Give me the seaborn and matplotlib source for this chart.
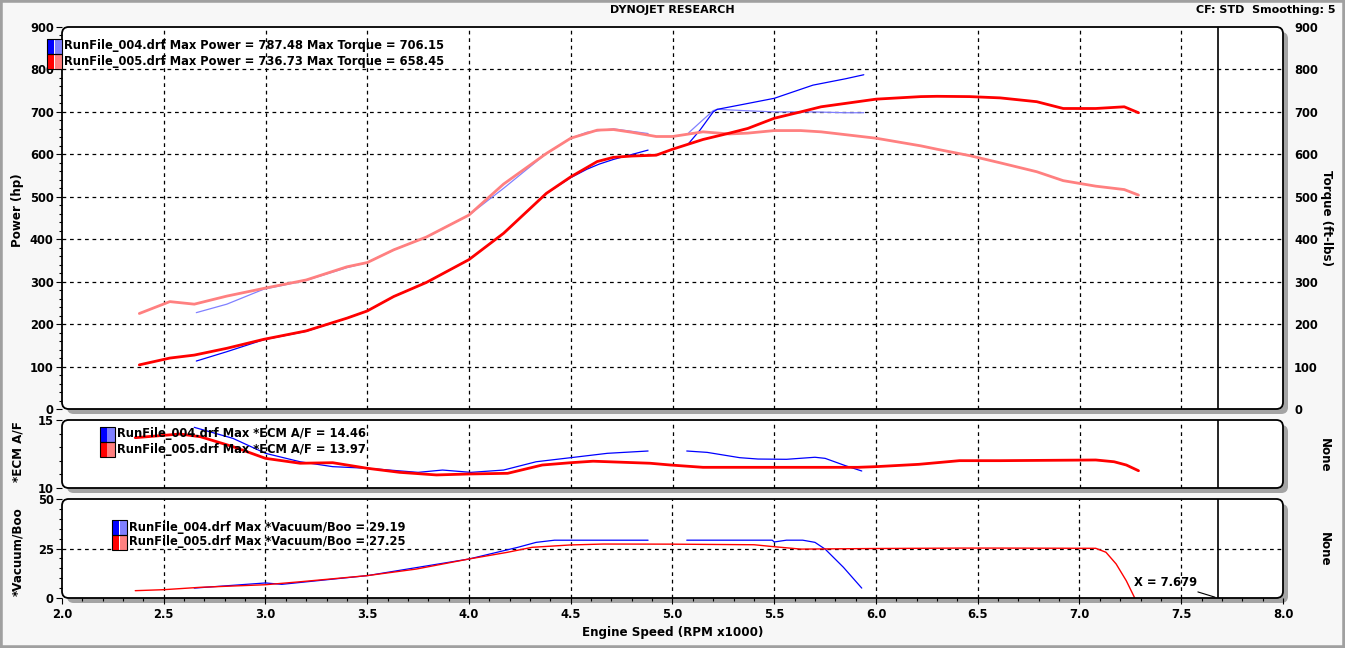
import numpy as np
import pandas as pd
import matplotlib
matplotlib.use("Agg")
import matplotlib.pyplot as plt
from matplotlib.patches import FancyBboxPatch, Rectangle
import seaborn as sns

# RunFile_005 (red)
rpm_005 = [2.38, 2.53, 2.65, 2.81, 2.99, 3.2, 3.4, 3.5, 3.63, 3.79, 4.0, 4.17, 4.38, 4.5, 4.63,
           4.71, 4.8, 4.92, 5.0, 5.15, 5.28, 5.37, 5.5, 5.63, 5.73, 6.0, 6.22, 6.3, 6.46, 6.61,
           6.79, 6.92, 7.08, 7.22, 7.29]
power_005 = [104, 120, 127, 143, 164, 184, 214, 231, 265, 298, 352, 414, 508, 547, 583,
             593, 596, 598, 612, 635, 650, 661, 685, 700, 712, 730, 736, 736.7, 736, 733,
             724, 708, 708, 712, 698]
torque_005 = [225, 253, 247, 266, 284, 304, 335, 345, 375, 405, 457, 530, 602, 638, 657,
              658.4, 652, 642, 642, 653, 648, 650, 656, 656, 653, 638, 620, 612, 597, 580,
              559, 538, 525, 517, 504]

# RunFile_004 (blue), two segments
rpm_004 = [2.66, 2.81, 2.99, 3.2, 3.4, 3.5, 3.63, 3.79, 4.0, 4.17, 4.38, 4.5, 4.58, 4.64, 4.71, 4.88,
           5.08, 5.135, 5.2, 5.22, 5.35, 5.5, 5.69, 5.85, 5.94]
seg_004 = [1] * 16 + [2] * 9
power_004 = [113, 135, 163, 183, 214, 231, 265, 298, 352, 414, 508, 545, 565, 577, 588, 610,
             626, 657, 700, 706, 718, 732, 763, 778, 787.5]
torque_004 = [227, 247, 282, 303, 333, 345, 375, 405, 457, 520, 602, 638, 652, 656, 660, 649,
              651, 675, 703, 706.2, 703, 700, 700, 698, 698]

# ECM A/F
af_rpm_005 = [2.36, 2.58, 2.68, 2.84, 3.0, 3.17, 3.33, 3.5, 3.66, 3.84, 4.0, 4.19, 4.36, 4.5,
              4.61, 4.89, 4.99, 5.15, 5.5, 5.91, 6.0, 6.21, 6.41, 6.61, 7.08, 7.17, 7.23, 7.29]
af_005 = [13.70, 13.97, 13.77, 13.04, 12.18, 11.82, 11.86, 11.45, 11.15, 10.96, 11.03, 11.08,
          11.69, 11.86, 11.97, 11.82, 11.69, 11.52, 11.52, 11.52, 11.57, 11.74, 12.01, 12.01,
          12.06, 11.93, 11.69, 11.27]
af_rpm_004 = [2.65, 2.84, 3.0, 3.17, 3.33, 3.5, 3.75, 3.87, 4.01, 4.17, 4.33, 4.5, 4.68, 4.88,
              5.07, 5.17, 5.33, 5.42, 5.56, 5.70, 5.75, 5.85, 5.93]
af_seg_004 = [1] * 14 + [2] * 9
af_004 = [14.46, 13.65, 12.55, 11.93, 11.57, 11.45, 11.15, 11.32, 11.15, 11.32, 11.93, 12.23,
          12.55, 12.72, 12.72, 12.62, 12.23, 12.13, 12.11, 12.26, 12.18, 11.64, 11.25]

# Vacuum/Boost
vac_rpm_005 = [2.36, 2.5, 2.68, 3.0, 3.17, 3.5, 3.74, 4.0, 4.19, 4.31, 4.5, 4.66, 4.99, 5.4,
               5.5, 5.63, 6.0, 6.41, 6.61, 7.08, 7.13, 7.18, 7.23, 7.27]
vac_005 = [3.7, 4.2, 5.4, 6.7, 8.2, 11.3, 14.6, 19.7, 23.1, 25.6, 26.8, 27.25, 27.2, 26.9,
           25.9, 24.7, 25.0, 25.2, 25.2, 25.1, 23.1, 17.2, 8.7, 0.3]
vac_rpm_004 = [2.65, 3.0, 3.08, 3.5, 4.0, 4.24, 4.33, 4.42, 4.88,
               5.07, 5.49, 5.5, 5.56, 5.64, 5.70, 5.75, 5.84, 5.93]
vac_seg_004 = [1] * 9 + [2] * 9
vac_004 = [5.0, 7.6, 6.9, 11.3, 19.7, 25.6, 28.1, 29.19, 29.19,
           29.2, 29.2, 28.3, 29.2, 29.2, 28.1, 24.7, 15.5, 5.0]

cursor_x = 7.679

legend_top = ["RunFile_004.drf Max Power = 787.48 Max Torque = 706.15",
              "RunFile_005.drf Max Power = 736.73 Max Torque = 658.45"]
legend_mid = ["RunFile_004.drf Max *ECM A/F = 14.46",
              "RunFile_005.drf Max *ECM A/F = 13.97"]
legend_bot = ["RunFile_004.drf Max *Vacuum/Boo = 29.19",
              "RunFile_005.drf Max *Vacuum/Boo = 27.25"]

sns.set_style("white")
plt.rcParams["font.family"] = ["DejaVu Sans"]
plt.rcParams["font.weight"] = "bold"
plt.rcParams["text.color"] = "black"
plt.rcParams["axes.labelcolor"] = "black"
plt.rcParams["xtick.color"] = "black"
plt.rcParams["ytick.color"] = "black"

BLUE, LBLUE = "#0000ff", "#8080ff"
RED, LRED = "#ff0000", "#ff8080"
W, H = 1345, 648
FS = 8.3

fig = plt.figure(figsize=(W / 100, H / 100), dpi=100, facecolor="#f7f7f7")
fig.patches.append(Rectangle((0, 0), 1, 1, transform=fig.transFigure, fill=False,
                             ec="#a0a0a0", lw=4, zorder=-5))


def px_rect(top, bottom):
    return [62 / W, 1 - bottom / H, (1283 - 62) / W, (bottom - top) / H]


panels = [(27, 409), (420, 488), (499, 598)]
axes = []
for top, bottom in panels:
    r = px_rect(top, bottom)
    shadow = FancyBboxPatch((r[0] + 5 / W, r[1] - 5 / H), r[2], r[3],
                            boxstyle="round,pad=0,rounding_size=0.005", mutation_aspect=W / H,
                            transform=fig.transFigure, fc="#a4a4a4", ec="none", zorder=-3)
    face = FancyBboxPatch((r[0], r[1]), r[2], r[3],
                          boxstyle="round,pad=0,rounding_size=0.005", mutation_aspect=W / H,
                          transform=fig.transFigure, fc="white", ec="none", zorder=-2)
    border = FancyBboxPatch((r[0], r[1]), r[2], r[3],
                            boxstyle="round,pad=0,rounding_size=0.005", mutation_aspect=W / H,
                            transform=fig.transFigure, fc="none", ec="black", lw=1.3, zorder=5)
    fig.patches.extend([shadow, face, border])
    ax = fig.add_axes(r)
    ax.patch.set_visible(False)
    for s in ax.spines.values():
        s.set_visible(False)
    ax.set_xlim(2.0, 8.0)
    for xv in np.arange(2.5, 8.0, 0.5):
        ax.axvline(xv, color="black", ls=(0, (3, 3)), lw=0.9, zorder=1)
    ax.axvline(cursor_x, color="black", lw=1.2, zorder=4)
    axes.append(ax)

ax_top, ax_mid, ax_bot = axes

# Top panel: power and torque
df005 = pd.DataFrame({"rpm": rpm_005, "power": power_005, "torque": torque_005})
df004 = pd.DataFrame({"rpm": rpm_004, "seg": seg_004, "power": power_004, "torque": torque_004})
for yv in range(100, 900, 100):
    ax_top.axhline(yv, color="black", ls=(0, (3, 3)), lw=0.9, zorder=1)
sns.lineplot(data=df005, x="rpm", y="torque", color=LRED, lw=2.0, sort=False,
             estimator=None, ax=ax_top, zorder=3)
sns.lineplot(data=df005, x="rpm", y="power", color=RED, lw=2.0, sort=False,
             estimator=None, ax=ax_top, zorder=3)
sns.lineplot(data=df004, x="rpm", y="torque", units="seg", color=LBLUE, lw=0.9, sort=False,
             estimator=None, ax=ax_top, zorder=2)
sns.lineplot(data=df004, x="rpm", y="power", units="seg", color=BLUE, lw=0.9, sort=False,
             estimator=None, ax=ax_top, zorder=2)
ax_top.set_ylim(0, 900)
ax_top.set_yticks(range(0, 901, 100))
ax_top.set_yticks(range(0, 901, 20), minor=True)
ax_top.set_xticks([])
ax_top.set_xlabel("")
ax_top.set_ylabel("")
ax_r = ax_top.twinx()
for s in ax_r.spines.values():
    s.set_visible(False)
ax_r.set_ylim(0, 900)
ax_r.set_yticks(range(0, 901, 100))
ax_r.tick_params(axis="y", length=0, pad=8, labelsize=FS, colors="black")

# Middle panel: ECM A/F
dfa5 = pd.DataFrame({"rpm": af_rpm_005, "af": af_005})
dfa4 = pd.DataFrame({"rpm": af_rpm_004, "seg": af_seg_004, "af": af_004})
sns.lineplot(data=dfa5, x="rpm", y="af", color=RED, lw=2.0, sort=False,
             estimator=None, ax=ax_mid, zorder=3)
sns.lineplot(data=dfa4, x="rpm", y="af", units="seg", color=BLUE, lw=0.9, sort=False,
             estimator=None, ax=ax_mid, zorder=2)
ax_mid.set_ylim(10, 15)
ax_mid.set_yticks([10, 15])
ax_mid.set_yticks(range(10, 16), minor=True)
ax_mid.set_xticks([])
ax_mid.set_xlabel("")
ax_mid.set_ylabel("")

# Bottom panel: Vacuum/Boost
dfv5 = pd.DataFrame({"rpm": vac_rpm_005, "vac": vac_005})
dfv4 = pd.DataFrame({"rpm": vac_rpm_004, "seg": vac_seg_004, "vac": vac_004})
ax_bot.axhline(25, color="black", ls=(0, (3, 3)), lw=0.9, zorder=1)
sns.lineplot(data=dfv4, x="rpm", y="vac", units="seg", color=BLUE, lw=0.9, sort=False,
             estimator=None, ax=ax_bot, zorder=2)
sns.lineplot(data=dfv5, x="rpm", y="vac", color=RED, lw=1.0, sort=False,
             estimator=None, ax=ax_bot, zorder=3)
ax_bot.set_ylim(0, 50)
ax_bot.set_yticks([0, 25, 50])
ax_bot.set_yticks(range(0, 51, 5), minor=True)
ax_bot.set_xticks(np.arange(2.0, 8.01, 0.5))
ax_bot.set_xticks(np.arange(2.0, 8.01, 0.1), minor=True)
ax_bot.set_xticklabels([f"{v:.1f}" for v in np.arange(2.0, 8.01, 0.5)])
ax_bot.set_xlabel("Engine Speed (RPM x1000)", fontsize=8.6, fontweight="bold", labelpad=4)
ax_bot.set_ylabel("")
ax_bot.annotate("X = 7.679", xy=(cursor_x, 0), xytext=(7.58, 8), fontsize=FS,
                fontweight="bold", ha="right", va="center",
                arrowprops=dict(arrowstyle="-", color="black", lw=0.8, shrinkA=0), zorder=6)

for ax in axes:
    ax.tick_params(axis="both", which="major", direction="out", length=4, width=0.8,
                   labelsize=FS, left=True, bottom=True, color="black", labelcolor="black")
    ax.tick_params(axis="both", which="minor", direction="out", length=2.5, width=0.8,
                   left=True, bottom=True, color="black")
    ax.tick_params(axis="x", which="both", pad=3)
    ax.tick_params(axis="y", which="both", pad=2)

# Axis titles
fig.text(18 / W, 1 - 210 / H, "Power (hp)", rotation=90, ha="center", va="center",
         fontsize=8.6, fontweight="bold")
fig.text(18 / W, 1 - 452 / H, "*ECM A/F", rotation=90, ha="center", va="center",
         fontsize=8.6, fontweight="bold")
fig.text(18 / W, 1 - 552 / H, "*Vacuum/Boo", rotation=90, ha="center", va="center",
         fontsize=8.6, fontweight="bold")
fig.text(1326 / W, 1 - 218 / H, "Torque (ft-lbs)", rotation=-90, ha="center", va="center",
         fontsize=8.6, fontweight="bold")
fig.text(1324 / W, 1 - 455 / H, "None", rotation=-90, ha="center", va="center",
         fontsize=8.6, fontweight="bold")
fig.text(1324 / W, 1 - 549 / H, "None", rotation=-90, ha="center", va="center",
         fontsize=8.6, fontweight="bold")
fig.text(672 / W, 1 - 10 / H, "DYNOJET RESEARCH", ha="center", va="center",
         fontsize=8, fontweight="bold")
fig.text(1335 / W, 1 - 10 / H, "CF: STD  Smoothing: 5", ha="right", va="center",
         fontsize=8, fontweight="bold")


# Legends (swatch: dark half + light half)
def legend(x_px, y_px, labels, pairs):
    for i, (lab, (c1, c2)) in enumerate(zip(labels, pairs)):
        yc = y_px + i * 15
        fig.patches.append(Rectangle((x_px / W, 1 - (yc + 7.5) / H), 7.5 / W, 15 / H,
                                     transform=fig.transFigure, fc=c1, ec="none", zorder=6))
        fig.patches.append(Rectangle(((x_px + 7.5) / W, 1 - (yc + 7.5) / H), 7.5 / W, 15 / H,
                                     transform=fig.transFigure, fc=c2, ec="none", zorder=6))
        fig.patches.append(Rectangle((x_px / W, 1 - (yc + 7.5) / H), 15 / W, 15 / H,
                                     transform=fig.transFigure, fc="none", ec="black",
                                     lw=0.8, zorder=7))
        fig.text((x_px + 17) / W, 1 - yc / H, lab, ha="left", va="center", fontsize=FS,
                 fontweight="bold", zorder=7)


colors = [(BLUE, LBLUE), (RED, LRED)]
legend(47, 46, legend_top, colors)
legend(100, 434, legend_mid, colors)
legend(112, 527, legend_bot, colors)

fig.savefig("out.png", dpi=100, facecolor=fig.get_facecolor())
